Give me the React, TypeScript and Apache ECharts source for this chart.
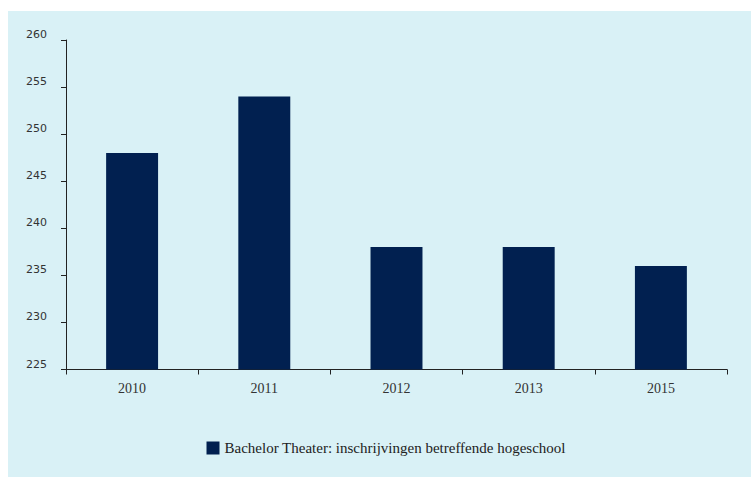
import React, { useEffect, useRef } from "react";
import * as echarts from "echarts";

const categories = ["2010", "2011", "2012", "2013", "2015"];
const values = [248, 254, 238, 238, 236];
const seriesName = "Bachelor Theater: inschrijvingen betreffende hogeschool";

export default function App() {
  const ref = useRef<HTMLDivElement>(null);
  useEffect(() => {
    if (!ref.current) return;
    const chart = echarts.init(ref.current, undefined, { renderer: "svg" });
    chart.setOption({
      animation: false,
      backgroundColor: "#d9f1f6",
      grid: { left: 58, right: 24, top: 29, bottom: 107.5, containLabel: false },
      legend: {
        data: [seriesName],
        left: 198.5,
        top: 429.5,
        padding: 0,
        itemWidth: 13,
        itemHeight: 13,
        itemGap: 6,
        icon: "rect",
        textStyle: {
          fontFamily: "Liberation Serif",
          fontSize: 15,
          color: "#222",
          padding: [0, 0, 10, 0],
        },
      },
      xAxis: {
        type: "category",
        data: categories,
        axisLine: { lineStyle: { color: "#222", width: 1 } },
        axisTick: { show: true, length: 5, lineStyle: { color: "#222" } },
        axisLabel: {
          fontFamily: "Liberation Serif",
          fontSize: 14,
          color: "#333",
          margin: 12,
        },
        splitLine: { show: false },
      },
      yAxis: {
        type: "value",
        min: 225,
        max: 260,
        interval: 5,
        axisLine: { show: true, lineStyle: { color: "#222", width: 1 } },
        axisTick: { show: true, length: 5, lineStyle: { color: "#222" } },
        axisLabel: {
          fontFamily: "DejaVu Sans",
          fontSize: 11,
          color: "#333",
          margin: 19,
          verticalAlign: "bottom",
        },
        splitLine: { show: false },
      },
      series: [
        {
          name: seriesName,
          type: "bar",
          data: values,
          barWidth: "39.3%",
          itemStyle: { color: "#012050" },
        },
      ],
    });
    return () => chart.dispose();
  }, []);
  return (
    <div
      ref={ref}
      style={{ position: "absolute", left: 8, top: 11, width: 743, height: 466 }}
    />
  );
}
